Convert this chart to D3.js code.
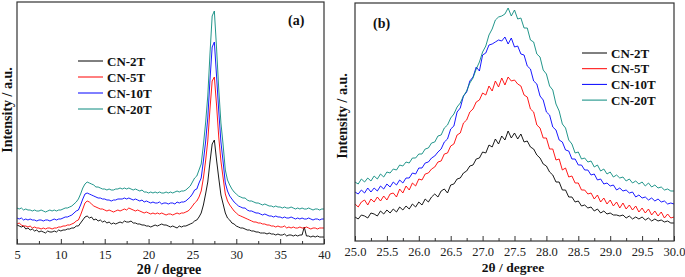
<!DOCTYPE html>
<html><head><meta charset="utf-8">
<script src="https://cdn.jsdelivr.net/npm/d3@7"></script>
<style>
html,body{margin:0;padding:0;background:#fff;}
svg{display:block;font-family:"Liberation Serif","Times New Roman",serif;}
svg text{font-family:"Liberation Serif","Times New Roman",serif;}
</style></head>
<body><svg id="c" width="685" height="277"></svg>
<script>
// ---------------- DATA ----------------
const seriesNames = ["CN-2T", "CN-5T", "CN-10T", "CN-20T"];
const seriesColors = ["#000000", "#ff0000", "#0000ff", "#0a8a7e"];

// Panel (a): 2θ sampling grid 5 → 40, step 0.25
const thetaA = d3.range(0, 141).map(i => 5 + i * 0.25);
const ticksA = [5, 10, 15, 20, 25, 30, 35, 40];
const minorA = [7.5, 12.5, 17.5, 22.5, 27.5, 32.5, 37.5];

const a_CN2T = [19,18,17,18,15,16,14,15, 13,14,12,13,12,11,13,12, 12,13,12,14,13,14,14,15,
 15,16,16,18,18,21,24,27, 28,26,27,24,25,23,24,22, 23,21,22,20,21,20,21,22,
 21,23,22,22,23,21,21,20, 20,19,19,18,18,17,18,19, 18,19,20,19,19,18,17,18,
 17,16,18,17,18,18,19,20, 21,23,24,27,31,39,50,62, 82,100,104,84,66,49,40,31,
 26,24,21,20,18,17,16,16, 15,14,14,13,13,12,12,11, 11,11,10,11,10,10,9,10,
 9,9,10,8,9,9,8,9, 8,9,9,17,8,8,7,8, 7,8,7,7,7];
const a_CN5T = [20,21,19,18,18,17,18,16, 17,16,16,15,16,15,16,16, 15,16,16,17,17,18,18,19,
 19,20,21,23,24,29,35,41, 43,42,40,38,37,36,35,35, 34,33,34,33,32,33,34,33,
 34,35,34,36,35,34,33,34, 33,32,31,32,31,30,31,30, 31,30,31,30,29,30,30,29,
 30,31,30,31,31,32,33,35, 38,41,43,47,53,66,83,103, 135,163,167,139,107,83,66,50,
 43,39,36,33,31,29,28,27, 26,25,24,23,22,22,21,21, 20,20,19,19,18,18,17,18,
 17,17,18,16,17,16,17,16, 16,17,16,16,17,16,15,16, 16,15,16,16,16];
const a_CN10T = [26,25,26,24,25,24,25,24, 24,23,24,24,23,24,24,23, 24,25,24,25,25,26,27,27,
 28,29,31,33,34,39,45,50, 51,50,49,48,47,46,46,45, 45,44,44,43,44,44,45,45,
 45,46,45,46,45,44,45,44, 43,44,42,43,42,41,42,41, 41,42,40,41,41,40,41,41,
 40,42,41,42,42,43,45,47, 50,54,55,61,66,83,102,126, 164,197,202,168,133,102,82,61,
 53,48,45,42,40,38,37,36, 36,34,33,33,32,31,31,30, 29,30,29,28,28,27,28,27,
 27,26,27,26,26,27,26,25, 26,25,26,25,25,26,25,24, 25,25,24,25,25];
const a_CN20T = [36,35,36,34,35,34,34,33, 34,33,33,34,33,32,33,34, 33,34,33,34,34,35,36,36,
 37,38,40,42,45,50,56,60, 62,61,60,59,57,57,56,55, 55,54,55,54,54,55,55,56,
 55,56,55,56,55,54,55,54, 53,54,52,52,51,52,51,52, 51,52,51,51,52,51,52,51,
 52,53,52,53,53,54,56,58, 62,66,68,74,80,99,121,148, 190,228,233,196,155,121,99,74,
 64,59,55,52,50,48,47,46, 46,44,43,43,42,41,41,40, 39,40,39,38,38,37,38,37,
 37,36,37,36,36,37,36,35, 36,35,36,35,35,36,35,34, 35,35,34,35,35];

// Panel (b): 2θ sampling grid 25 → 30, step 0.05
const thetaB = d3.range(0, 101).map(i => 25 + i * 0.05);
const ticksB = [25.0, 25.5, 26.0, 26.5, 27.0, 27.5, 28.0, 28.5, 29.0, 29.5, 30.0];
const minorB = [25.25, 25.75, 26.25, 26.75, 27.25, 27.75, 28.25, 28.75, 29.25, 29.75];

const b_CN2T = [24,22,26,25,23,28,27,25,30,27, 31,28,32,29,34,31,35,32,37,34,
 39,36,42,39,44,47,44,50,52,48, 56,57,62,63,68,70,75,76,82,83,
 89,88,96,94,102,97,105,101,110,103, 108,102,107,99,100,94,92,86,83,77,
 75,69,66,59,59,51,51,44,44,39, 40,35,36,33,34,30,32,28,30,27,
 28,26,26,25,26,23,25,22,24,22, 24,21,23,20,22,20,21,19,20,18, 18];
const b_CN5T = [37,34,39,41,36,42,39,44,40,45, 41,47,48,44,52,48,55,51,58,55,
 62,61,67,68,72,74,79,80,87,88, 95,97,106,108,118,121,129,132,139,141,
 148,146,155,150,160,154,163,156,164,160, 161,157,155,146,144,132,129,116,113,103,
 103,92,92,81,82,71,73,64,65,58, 58,51,51,47,48,42,46,39,43,37,
 41,35,39,33,38,32,36,31,35,29, 33,28,32,26,30,25,29,23,27,23, 24];
const b_CN10T = [49,47,51,48,53,49,53,50,55,52, 57,54,59,56,61,58,63,63,68,67,
 73,73,78,79,83,85,89,92,99,102, 112,115,129,133,145,149,160,164,174,170,
 186,188,196,197,199,201,200,204,197,203, 194,195,187,186,175,172,160,157,145,141,
 129,126,114,111,101,99,91,90,82,82, 76,76,71,71,66,67,61,62,57,58,
 55,56,51,53,50,51,48,49,44,46, 43,44,41,43,40,42,39,40,37,38, 37];
const b_CN20T = [59,57,62,59,63,60,65,62,67,64, 69,68,72,71,76,75,79,78,83,83,
 87,87,92,93,98,99,105,106,113,116, 123,127,134,138,145,150,158,163,172,179,
 189,195,206,212,221,224,225,227,233,225, 231,222,223,213,213,201,199,187,184,171,
 167,155,151,137,130,117,113,101,97,88, 89,82,83,79,80,74,76,70,72,67,
 69,64,66,63,64,60,62,58,60,57, 59,55,58,54,56,53,54,51,52,50, 50];

const dataA = [a_CN2T, a_CN5T, a_CN10T, a_CN20T];
const dataB = [b_CN2T, b_CN5T, b_CN10T, b_CN20T];

// ---------------- DRAW ----------------
const svg = d3.select("#c");
const FRAME = "#333";
const SERIF = '"Liberation Serif", "Times New Roman", serif';

function panel(cfg) {
  const x = d3.scaleLinear().domain(cfg.xDomain).range([cfg.left, cfg.right]);
  const y = d3.scaleLinear().domain(cfg.yDomain).range([cfg.bottom, cfg.top]);
  const g = svg.append("g");

  const clipId = "clip" + cfg.id;
  svg.append("clipPath").attr("id", clipId).append("rect")
    .attr("x", cfg.left).attr("y", cfg.top)
    .attr("width", cfg.right - cfg.left).attr("height", cfg.bottom - cfg.top);

  const line = d3.line().x(d => x(d[0])).y(d => y(d[1]));
  const lines = g.append("g").attr("clip-path", `url(#${clipId})`);
  cfg.data.forEach((vals, k) => {
    const pts = cfg.theta.map((t, i) => [t, vals[i]]);
    lines.append("path").datum(pts)
      .attr("d", line).attr("fill", "none")
      .attr("stroke", seriesColors[k]).attr("stroke-width", 0.9)
      .attr("stroke-linejoin", "round");
  });

  // minor ticks
  g.append("g").attr("transform", `translate(0,${cfg.bottom})`)
    .call(d3.axisBottom(x).tickValues(cfg.minor).tickSizeInner(-3).tickSizeOuter(0).tickFormat(""))
    .call(s => s.select(".domain").remove())
    .call(s => s.selectAll("line").attr("stroke", FRAME));
  // major ticks
  const ax = g.append("g").attr("transform", `translate(0,${cfg.bottom})`)
    .call(d3.axisBottom(x).tickValues(cfg.ticks).tickSizeInner(-5).tickSizeOuter(0)
      .tickPadding(cfg.pad).tickFormat(cfg.fmt));
  ax.attr("font-family", null).attr("font-size", null);
  ax.select(".domain").remove();
  ax.selectAll("line").attr("stroke", FRAME);
  ax.selectAll("text").style("font-family", SERIF)
    .style("font-size", cfg.tickFont + "px").attr("fill", "#222");

  // frame
  g.append("rect").attr("x", cfg.left).attr("y", cfg.top)
    .attr("width", cfg.right - cfg.left).attr("height", cfg.bottom - cfg.top)
    .attr("fill", "none").attr("stroke", FRAME).attr("stroke-width", 1.2);

  // axis titles
  g.append("text").attr("x", cfg.xTitleX).attr("y", cfg.xTitleY)
    .attr("text-anchor", "middle").attr("font-weight", "bold")
    .attr("font-size", cfg.titleFont).attr("fill", "#111").text("2θ / degree");
  g.append("text")
    .attr("transform", `translate(${cfg.yTitleX},${cfg.yTitleY}) rotate(-90)`)
    .attr("text-anchor", "middle").attr("font-weight", "bold")
    .attr("font-size", 14).attr("fill", "#111").text("Intensity / a.u.");

  // panel label
  g.append("text").attr("x", cfg.labX).attr("y", cfg.labY)
    .attr("font-weight", "bold").attr("font-size", 14).attr("fill", "#111").text(cfg.label);

  // legend
  seriesNames.forEach((n, k) => {
    const yy = cfg.legY + k * cfg.legStep;
    g.append("line").attr("x1", cfg.legX).attr("x2", cfg.legX + 25)
      .attr("y1", yy).attr("y2", yy).attr("stroke", seriesColors[k]).attr("stroke-width", 1);
    g.append("text").attr("x", cfg.legX + 29).attr("y", yy + 4.5)
      .attr("font-weight", "bold").attr("font-size", 13).attr("fill", "#111").text(n);
  });
}

panel({
  id: "a", left: 17, right: 324, top: 2, bottom: 244,
  xDomain: [5, 40], yDomain: [0, 242],
  theta: thetaA, data: dataA, ticks: ticksA, minor: minorA,
  fmt: d3.format("d"), pad: 6, tickFont: 12.5, titleFont: 14,
  xTitleX: 169, xTitleY: 274, yTitleX: 12, yTitleY: 110,
  label: "(a)", labX: 288, labY: 25,
  legX: 78, legY: 61, legStep: 16
});
panel({
  id: "b", left: 355, right: 674, top: 3, bottom: 241,
  xDomain: [25, 30], yDomain: [0, 238],
  theta: thetaB, data: dataB, ticks: ticksB, minor: minorB,
  fmt: d3.format(".1f"), pad: 6, tickFont: 12.5, titleFont: 13.5,
  xTitleX: 513, xTitleY: 272, yTitleX: 347, yTitleY: 116,
  label: "(b)", labX: 373, labY: 28,
  legX: 582, legY: 53, legStep: 15.7
});
</script>
</body></html>
